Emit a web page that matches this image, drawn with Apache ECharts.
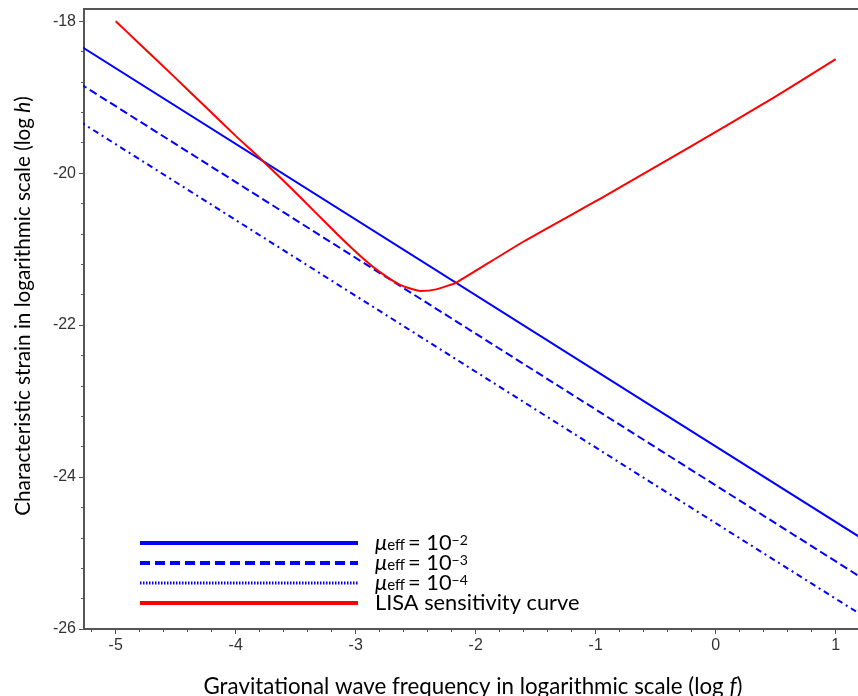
<!DOCTYPE html>
<html>
<head>
<meta charset="utf-8">
<script src="https://cdn.jsdelivr.net/npm/echarts@6/dist/echarts.min.js"></script>
<style>
	html, body { margin: 0; padding: 0; background: #fff; }
	#chart { width: 858px; height: 696px; }
</style>
</head>
<body>
<div id="chart"></div>
<script>
// log f values where the straight lines were read
var lineX = [-5.3, -0.55, 1.25];
// log h of the three mu_eff lines
var mu2 = [-18.32, -23.05, -24.84];
var mu3 = [-18.82, -23.56, -25.36];
var mu4 = [-19.32, -24.06, -25.85];

// LISA sensitivity curve
var lisaX = [-5, -4.82, -4.52, -4.25, -4.0, -3.78, -3.55, -3.34, -3.13, -2.94, -2.80, -2.63, -2.46, -2.33, -2.21, -2.16, -1.60, -0.91, -0.21, 0.48, 1.0];
var lisaY = [-18, -18.27, -18.72, -19.13, -19.51, -19.83, -20.18, -20.51, -20.84, -21.12, -21.30, -21.47, -21.55, -21.53, -21.47, -21.44, -20.90, -20.29, -19.65, -19.01, -18.5];

// tick labels
var xTicks = [-5, -4, -3, -2, -1, 0, 1];
var yTicks = [-26, -24, -22, -20, -18];

var legendText = {
	mu2 : '{mu|μ}{sub|eff}{t|= 10}{sup|−2}',
	mu3 : '{mu|μ}{sub|eff}{t|= 10}{sup|−3}',
	mu4 : '{mu|μ}{sub|eff}{t|= 10}{sup|−4}',
	LISA : '{t|LISA sensitivity curve}'
};

function pairs(xs, ys) {
	var out = [];
	for (var i = 0; i < xs.length; i++) {
		out.push([xs[i], ys[i]]);
	}
	return out;
}

function minorTicks(majors, step, lo, hi) {
	var out = [];
	for (var i = 0; i < majors.length; i++) {
		for (var k = -4; k <= 4; k++) {
			if (k == 0) continue;
			var v = Math.round((majors[i] + k * step) * 100) / 100;
			if (v > lo && v < hi && out.indexOf(v) < 0 && majors.indexOf(v) < 0) out.push(v);
		}
	}
	return out;
}

var X_MIN = -5.264, X_MAX = 1.219, Y_MIN = -26, Y_MAX = -17.84;
var gridBox = { left : 84, top : 9, right : -4, bottom : 67 };
var font = "Lato, 'Open Sans', sans-serif";
var tickFont = "'Liberation Sans', Arial, sans-serif";

function lineSeries(name, data, color, type, smooth) {
	return {
		name : name,
		type : 'line',
		data : data,
		symbol : 'none',
		smooth : smooth || false,
		silent : true,
		animation : false,
		lineStyle : { color : color, width : 2, type : type },
		itemStyle : { color : color }
	};
}

function drawChart(divId) {
	var chart = echarts.init(document.getElementById(divId), null, { renderer : 'canvas' });
	var rich = {
		mu : { fontFamily : font, fontSize : 22, fontStyle : 'italic', color : '#000', lineHeight : 20 },
		sub : { fontFamily : font, fontSize : 15, color : '#000', lineHeight : 14, verticalAlign : 'bottom', padding : [0, 3, 0, 0] },
		t : { fontFamily : font, fontSize : 21.8, color : '#000', lineHeight : 20 },
		sup : { fontFamily : font, fontSize : 14, color : '#000', lineHeight : 14, verticalAlign : 'top' }
	};
	var xRich = {
		n : { fontFamily : font, fontSize : 22.3, color : '#000' },
		i : { fontFamily : font, fontSize : 22.3, fontStyle : 'italic', color : '#000' }
	};
	var yRich = {
		n : { fontFamily : font, fontSize : 20.7, color : '#000' },
		i : { fontFamily : font, fontSize : 20.7, fontStyle : 'italic', color : '#000' }
	};

	chart.setOption({
		backgroundColor : '#fff',
		animation : false,
		grid : [
			{ left : gridBox.left, top : gridBox.top, right : gridBox.right, bottom : gridBox.bottom,
			  show : true, borderColor : '#555', borderWidth : 2, containLabel : false, outerBoundsMode : 'none' },
			{ left : gridBox.left, top : gridBox.top, right : gridBox.right, bottom : gridBox.bottom,
			  show : false, outerBoundsMode : 'none' }
		],
		legend : {
			orient : 'vertical',
			left : 133,
			top : 527,
			itemWidth : 218,
			itemHeight : 20,
			itemGap : -2,
			selectedMode : false,
			itemStyle : { opacity : 0 },
			data : [
				{ name : 'mu2', lineStyle : { width : 4, type : 'solid' } },
				{ name : 'mu3', lineStyle : { width : 4, type : [10, 5] } },
				{ name : 'mu4', lineStyle : { width : 3, type : [1.5, 1.5] } },
				{ name : 'LISA', lineStyle : { width : 4, type : 'solid' } }
			],
			formatter : function(name) { return legendText[name]; },
			textStyle : { padding : [0, 0, 0, 12], rich : rich }
		},
		xAxis : [ {
			type : 'value',
			gridIndex : 0,
			min : X_MIN,
			max : X_MAX,
			name : '{n|Gravitational wave frequency in logarithmic scale (log }{i|f}{n|)}',
			nameLocation : 'middle',
			nameGap : 47,
			nameTextStyle : { rich : xRich },
			axisLine : { onZero : false, lineStyle : { color : '#555', width : 2 } },
			axisTick : { customValues : xTicks, length : 5, lineStyle : { color : '#555', width : 1 } },
			axisLabel : { customValues : xTicks, margin : 9, fontFamily : tickFont, fontSize : 16, color : '#333' },
			splitLine : { show : false }
		}, {
			type : 'value',
			gridIndex : 1,
			min : X_MIN,
			max : X_MAX,
			axisLine : { show : false, onZero : false },
			axisTick : { customValues : minorTicks(xTicks, 0.2, X_MIN, X_MAX), length : 3, lineStyle : { color : '#555', width : 1 } },
			axisLabel : { show : false },
			splitLine : { show : false }
		} ],
		yAxis : [ {
			type : 'value',
			gridIndex : 0,
			min : Y_MIN,
			max : Y_MAX,
			name : '{n|Characteristic strain in logarithmic scale (log }{i|h}{n|)}',
			nameLocation : 'middle',
			nameGap : 50,
			nameTextStyle : { rich : yRich, padding : [0, 0, 0, 26] },
			axisLine : { onZero : false, lineStyle : { color : '#555', width : 2 } },
			axisTick : { customValues : yTicks, length : 5, lineStyle : { color : '#555', width : 1 } },
			axisLabel : { customValues : yTicks, margin : 8, fontFamily : tickFont, fontSize : 16, color : '#333' },
			splitLine : { show : false }
		}, {
			type : 'value',
			gridIndex : 1,
			min : Y_MIN,
			max : Y_MAX,
			axisLine : { show : false, onZero : false },
			axisTick : { customValues : minorTicks(yTicks, 0.4, Y_MIN, -18), length : 3, lineStyle : { color : '#555', width : 1 } },
			axisLabel : { show : false },
			splitLine : { show : false }
		} ],
		series : [
			lineSeries('mu2', pairs(lineX, mu2), '#0000ff', 'solid'),
			lineSeries('mu3', pairs(lineX, mu3), '#0000ff', [8, 4]),
			lineSeries('mu4', pairs(lineX, mu4), '#0000ff', [6, 4, 2, 4]),
			lineSeries('LISA', pairs(lisaX, lisaY), '#ff0000', 'solid', 0.2)
		]
	});
	return chart;
}

drawChart('chart');
</script>
</body>
</html>
